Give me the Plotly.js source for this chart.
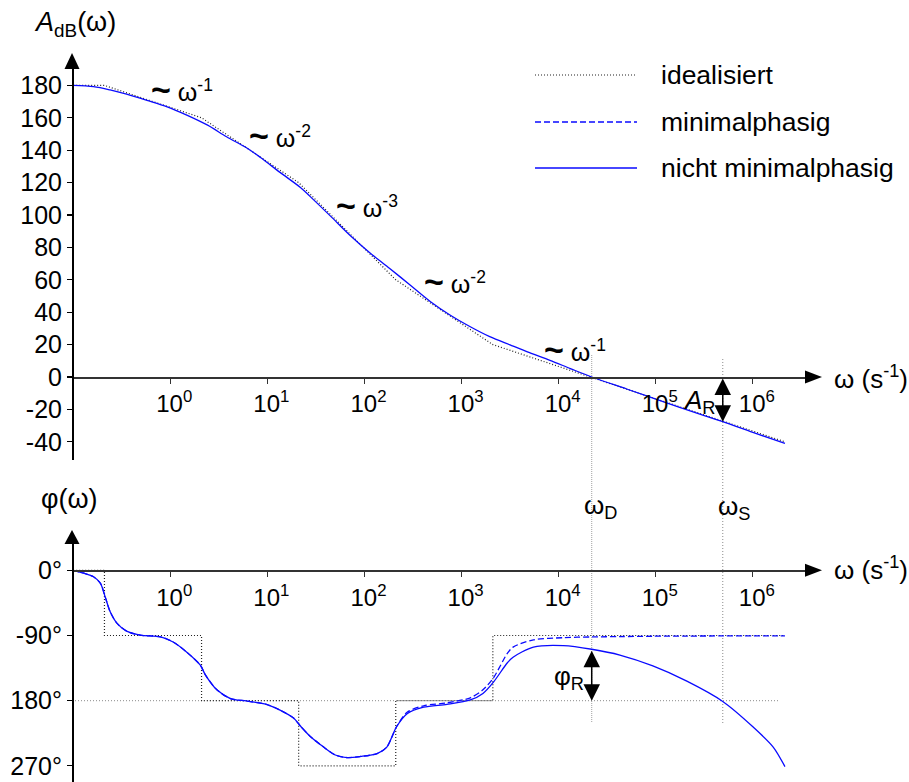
<!DOCTYPE html>
<html>
<head>
<meta charset="utf-8">
<script src="https://cdn.plot.ly/plotly-3.0.1.min.js"></script>
<style>
  html, body { margin: 0; padding: 0; background: #fff; }
  #chart { width: 909px; height: 782px; }
</style>
</head>
<body>
<div id="chart"></div>
<script>
// ---------------- data ----------------
const magIdealOmega = [0.1, 0.21, 2.1, 21, 210, 2100, 2140000];
const magIdeal      = [180, 180, 160, 120, 60, 20, -40];

const magOmega = [0.1, 0.162, 0.24, 0.355, 0.575, 0.93, 1.48, 2.4, 3.8, 6.2, 8.5, 13.5, 21.9, 27.5,
                  44.7, 70.8, 115, 182, 295, 479, 759, 1230, 1950, 3160, 5010, 8130, 13200, 21900,
                  50100, 100000, 316000, 490000, 1000000, 2140000];
const magActual = [180, 179.2, 177.2, 174.6, 170.8, 166.8, 161.7, 155.6, 148.3, 141.2, 135.5, 126.3, 117, 111.5,
                   99.3, 87.5, 76.4, 67, 56.8, 46.5, 38.3, 31, 24.9, 19.8, 15, 10.3, 5.2, 0,
                   -7.4, -13.6, -23.9, -27.6, -34.2, -41];

const phaseIdealOmega = [0.1, 0.21, 2.1, 21, 210, 2100, 2140000];
const phaseIdeal      = [0, -90, -180, -270, -180, -90, -90];

const phaseOmega = [0.1, 0.129, 0.162, 0.191, 0.214, 0.24, 0.282, 0.355, 0.49, 0.794, 1.07, 1.48, 2.04, 2.29,
                    3.02, 4.17, 6.17, 9.77, 13.5, 18.6, 21.9, 27.5, 38, 50.1, 66.1, 91.2, 135, 170, 214,
                    275, 407, 708, 1230, 1660, 2140, 2950, 3390, 5500, 11200, 21900, 42700, 93300, 209000,
                    490000, 1000000, 1620000, 2140000];
const phaseNonMinimal = [0, -4, -9, -18, -37, -57, -73, -84, -89.5, -92, -99, -113, -131, -144,
                         -165, -177, -180.5, -185, -193, -204, -215, -229, -244, -255, -258.5, -257, -253, -244, -216,
                         -198, -189, -185, -179, -170, -154, -128, -120, -106, -104, -109, -117, -132, -153,
                         -181, -216, -244, -271];
const phaseMinimal = [0, -4, -9, -18, -37, -57, -73, -84, -89.5, -92, -99, -113, -131, -144,
                      -165, -177, -180.5, -185, -193, -204, -215, -229, -244, -255, -258.5, -257, -253, -244, -216,
                      -196, -187, -183, -176, -165, -148, -115, -106, -96, -93, -92, -91.5, -91, -90.8,
                      -90.6, -90.5, -90.4, -90.4];

const omegaD = 21900;
const omegaS = 490000;
const refPhase = -180;
const refLineEndOmega = 1860000;

const xTickVals = [1, 10, 100, 1000, 10000, 100000, 1000000];
const xTickText = ['10<sup>0</sup>', '10<sup>1</sup>', '10<sup>2</sup>', '10<sup>3</sup>',
                   '10<sup>4</sup>', '10<sup>5</sup>', '10<sup>6</sup>'];
const magTickVals = [-40, -20, 0, 20, 40, 60, 80, 100, 120, 140, 160, 180];
const magTickText = ['-40', '-20', '0', '20', '40', '60', '80', '100', '120', '140', '160', '180'];
const phaseTickVals = [0, -90, -180, -270];
const phaseTickText = ['0°', '-90°', '180°', '270°'];

const legendNames = ['idealisiert', 'minimalphasig', 'nicht minimalphasig'];
const slopeLabels = ['-1', '-2', '-3', '-2', '-1'];

// ---------------- layout helpers ----------------
const W = 909, H = 782;
const px = v => v / W;
const py = v => 1 - v / H;
const FONT = 'Liberation Sans, Arial, sans-serif';
const BLUE = '#0a0aff';
const DOT = '1px,2px';

const AR = magActual[magOmega.indexOf(omegaS)];
const PR = phaseNonMinimal[phaseOmega.indexOf(omegaD)];

const xRange = [-1.012, -1.012 + (805 - 72) / 97.1];

const traces = [
  {x: magIdealOmega, y: magIdeal, xaxis: 'x', yaxis: 'y', mode: 'lines',
   line: {color: '#222', width: 1.2, dash: DOT}, name: legendNames[0], showlegend: false, hoverinfo: 'skip'},
  {x: magOmega, y: magActual, xaxis: 'x', yaxis: 'y', mode: 'lines',
   line: {color: BLUE, width: 1.3, shape: 'spline', smoothing: 0.9}, name: legendNames[2], showlegend: false, hoverinfo: 'skip'},
  {x: phaseIdealOmega, y: phaseIdeal, xaxis: 'x2', yaxis: 'y2', mode: 'lines',
   line: {color: '#222', width: 1.2, dash: DOT, shape: 'hv'}, name: legendNames[0], showlegend: false, hoverinfo: 'skip'},
  {x: phaseOmega, y: phaseMinimal, xaxis: 'x2', yaxis: 'y2', mode: 'lines',
   line: {color: BLUE, width: 1.3, dash: '6px,3px', shape: 'spline', smoothing: 0.8}, name: legendNames[1], showlegend: false, hoverinfo: 'skip'},
  {x: phaseOmega, y: phaseNonMinimal, xaxis: 'x2', yaxis: 'y2', mode: 'lines',
   line: {color: BLUE, width: 1.3, shape: 'spline', smoothing: 0.8}, name: legendNames[2], showlegend: false, hoverinfo: 'skip'}
];

const xAxisCommon = {
  type: 'log', range: xRange, domain: [px(72), px(805)], anchor: 'free',
  showline: true, linecolor: '#333', linewidth: 1.5, ticks: 'outside', ticklen: 5, tickwidth: 1.2,
  tickcolor: '#333', tickvals: xTickVals, ticktext: xTickText, showgrid: false, zeroline: false,
  ticklabelshift: 4,
  tickfont: {family: FONT, size: 24, color: '#000'}, fixedrange: true
};
const yAxisCommon = {
  anchor: 'free', position: px(72), showline: true, linecolor: '#000', linewidth: 1.5,
  ticks: 'outside', ticklen: 5, tickwidth: 1.2, tickcolor: '#000', showgrid: false, zeroline: false,
  tickfont: {family: FONT, size: 25, color: '#000'}, fixedrange: true
};

const layout = {
  width: W, height: H, margin: {l: 0, r: 0, t: 0, b: 0},
  paper_bgcolor: '#fff', plot_bgcolor: 'rgba(0,0,0,0)', showlegend: false,
  font: {family: FONT, color: '#000'},
  xaxis: Object.assign({}, xAxisCommon, {position: py(377)}),
  xaxis2: Object.assign({}, xAxisCommon, {position: py(570.3)}),
  yaxis: Object.assign({}, yAxisCommon, {domain: [py(460), py(68)],
    range: [(377 - 460) / 1.62, (377 - 68) / 1.62], tickvals: magTickVals, ticktext: magTickText}),
  yaxis2: Object.assign({}, yAxisCommon, {domain: [0, py(543)],
    range: [-(782 - 570.3) / 0.7244, (570.3 - 543) / 0.7244], tickvals: phaseTickVals, ticktext: phaseTickText}),
  shapes: [],
  annotations: []
};

function tri(tx, ty, bx1, by1, bx2, by2) {
  return {type: 'path', xref: 'paper', yref: 'paper', fillcolor: '#000', line: {width: 0},
    path: `M${px(tx)},${py(ty)} L${px(bx1)},${py(by1)} L${px(bx2)},${py(by2)} Z`};
}
// axis arrowheads
layout.shapes.push(tri(72, 53, 64.5, 69, 79.5, 69));
layout.shapes.push(tri(72, 530, 64.5, 544, 79.5, 544));
layout.shapes.push(tri(822, 377, 805, 370.5, 805, 383.5));
layout.shapes.push(tri(822, 570.3, 805, 563.8, 805, 576.8));

// vertical marker lines at omegaD / omegaS (shape x in data units)
layout.shapes.push({type: 'line', xref: 'x', yref: 'paper', x0: omegaD, x1: omegaD,
  y0: py(722), y1: py(355), line: {color: '#a0a0a0', width: 1, dash: '1px,1px'}, layer: 'below'});
layout.shapes.push({type: 'line', xref: 'x', yref: 'paper', x0: omegaS, x1: omegaS,
  y0: py(723), y1: py(358), line: {color: '#8a8a8a', width: 1, dash: '1px,2px'}, layer: 'below'});
// -180° reference line
layout.shapes.push({type: 'line', xref: 'x2', yref: 'y2', x0: Math.pow(10, xRange[0]), x1: refLineEndOmega,
  y0: refPhase, y1: refPhase, line: {color: '#8a8a8a', width: 1, dash: '1px,2px'}, layer: 'below'});

// legend (drawn manually)
const legendRows = [75, 122, 168];
const legendDash = [DOT, '6px,3px', 'solid'];
const legendColor = ['#222', BLUE, BLUE];
legendNames.forEach((n, i) => {
  layout.shapes.push({type: 'line', xref: 'paper', yref: 'paper', x0: px(535), x1: px(637),
    y0: py(legendRows[i]), y1: py(legendRows[i]),
    line: {color: legendColor[i], width: i === 0 ? 1.2 : 1.3, dash: legendDash[i]}});
  layout.annotations.push({text: n, xref: 'paper', yref: 'paper', x: px(659), y: py(legendRows[i]),
    xanchor: 'left', yanchor: 'middle', showarrow: false, font: {family: FONT, size: 26.5, color: '#000'}});
});

// slope labels
const slopePos = [[149, 89], [247, 135], [334, 205], [422, 281], [542, 349]];
slopeLabels.forEach((s, i) => {
  layout.annotations.push({text: '<span style="font-size:34px"><b>~</b></span> ω<sup>' + s + '</sup>',
    xref: 'paper', yref: 'paper',
    x: px(slopePos[i][0]), y: py(slopePos[i][1]), xanchor: 'left', yanchor: 'middle', showarrow: false,
    font: {family: FONT, size: 25, color: '#000'}});
});

function label(text, x, y, size, anchor) {
  layout.annotations.push({text: text, xref: 'paper', yref: 'paper', x: px(x), y: py(y),
    xanchor: anchor || 'left', yanchor: 'middle', showarrow: false, font: {family: FONT, size: size || 26, color: '#000'}});
}
label('<i>A</i><sub>dB</sub>(ω)', 32, 24, 27);
label('φ(ω)', 39, 499, 27);
label('ω (s<sup>-1</sup>)', 832, 377, 26);
label('ω (s<sup>-1</sup>)', 832, 568, 26);
label('ω<sub>D</sub>', 582, 506, 26);
label('ω<sub>S</sub>', 716, 507, 26);
label('<i>A</i><sub>R</sub>', 681, 401, 26);
label('φ<sub>R</sub>', 552, 677, 26);

// double arrows A_R and phi_R (annotation x in log units on log axes)
layout.annotations.push({xref: 'x', yref: 'y', axref: 'x', ayref: 'y',
  x: Math.log10(omegaS), y: AR, ax: Math.log10(omegaS), ay: 0, text: '', showarrow: true,
  arrowhead: 2, startarrowhead: 2, arrowside: 'end+start', arrowsize: 2.2, startarrowsize: 2.2,
  arrowwidth: 1.5, arrowcolor: '#000'});
layout.annotations.push({xref: 'x2', yref: 'y2', axref: 'x2', ayref: 'y2',
  x: Math.log10(omegaD), y: refPhase, ax: Math.log10(omegaD), ay: PR, text: '', showarrow: true,
  arrowhead: 2, startarrowhead: 2, arrowside: 'end+start', arrowsize: 2.2, startarrowsize: 2.2,
  arrowwidth: 1.5, arrowcolor: '#000'});

Plotly.newPlot('chart', traces, layout, {staticPlot: true, displayModeBar: false});
</script>
</body>
</html>
